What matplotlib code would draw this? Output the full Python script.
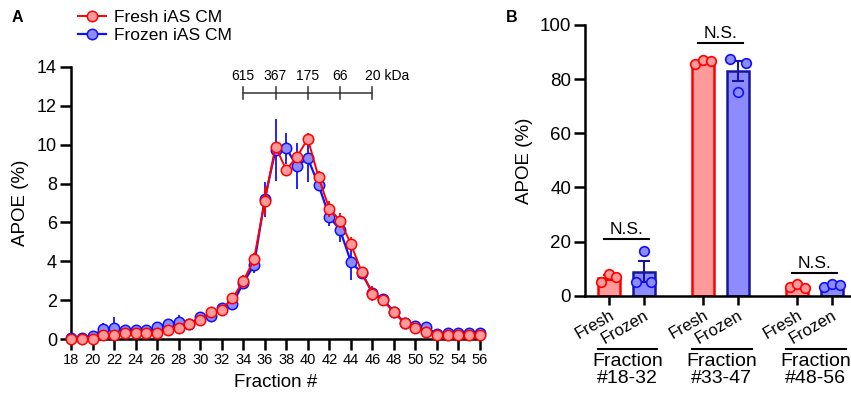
import numpy as np
import matplotlib
matplotlib.use('Agg')
import matplotlib.pyplot as plt
from matplotlib.transforms import blended_transform_factory

plt.rcParams['font.family'] = ['Liberation Sans', 'DejaVu Sans']

# ---------------- Panel A data ----------------
fractions = [18, 19, 20, 21, 22, 23, 24, 25, 26, 27, 28, 29, 30, 31, 32, 33, 34, 35, 36,
             37, 38, 39, 40, 41, 42, 43, 44, 45, 46, 47, 48, 49, 50, 51, 52, 53, 54, 55, 56]
fresh_mean = [0.0, 0.0, 0.0, 0.2, 0.2, 0.3, 0.3, 0.3, 0.3, 0.5, 0.6, 0.8, 1.0, 1.38, 1.53, 2.1, 2.98, 4.1, 7.1,
              9.9, 8.7, 9.38, 10.3, 8.32, 6.7, 6.1, 4.9, 3.47, 2.35, 2.0, 1.38, 0.83, 0.6, 0.39, 0.22, 0.22, 0.22, 0.22, 0.22]
fresh_sem = [0.03, 0.03, 0.03, 0.05, 0.05, 0.05, 0.05, 0.05, 0.05, 0.08, 0.1, 0.1, 0.1, 0.1, 0.1, 0.15, 0.3, 0.35, 0.7,
             0.3, 0.2, 0.3, 0.3, 0.3, 0.4, 0.4, 0.35, 0.2, 0.4, 0.25, 0.15, 0.1, 0.08, 0.05, 0.05, 0.05, 0.05, 0.05, 0.05]
frozen_mean = [0.05, 0.05, 0.18, 0.52, 0.6, 0.5, 0.5, 0.5, 0.62, 0.8, 0.9, 0.8, 1.12, 1.18, 1.6, 1.8, 2.9, 3.8, 7.2,
               9.72, 9.8, 8.9, 9.3, 7.93, 6.3, 5.61, 3.99, 3.4, 2.4, 2.05, 1.42, 0.85, 0.68, 0.65, 0.25, 0.3, 0.3, 0.3, 0.3]
frozen_sem = [0.05, 0.05, 0.1, 0.3, 0.55, 0.2, 0.15, 0.15, 0.15, 0.2, 0.35, 0.2, 0.1, 0.1, 0.15, 0.15, 0.2, 0.4, 0.9,
              1.6, 0.8, 1.2, 1.2, 0.3, 0.5, 0.6, 0.95, 0.3, 0.3, 0.2, 0.15, 0.1, 0.1, 0.1, 0.05, 0.05, 0.05, 0.05, 0.05]

kda_fractions = [34, 37, 40, 43, 46]
kda_labels = ['615', '367', '175', '66', '20 kDa']

# ---------------- Panel B data ----------------
group_labels = ['Fraction\n#18-32', 'Fraction\n#33-47', 'Fraction\n#48-56']
condition_labels = ['Fresh', 'Frozen']
fresh_pts = [[4.9, 7.9, 7.0], [85.5, 87.0, 86.7], [3.1, 4.3, 2.7]]
frozen_pts = [[5.0, 16.5, 5.0], [87.3, 75.4, 86.1], [3.1, 4.2, 3.9]]
ns_heights = [20.9, 93.2, 8.5]

RED = '#ff0000'
RED_FILL = '#ff9a9a'
BLUE = '#1010ff'
BLUE_FILL = '#8c8cff'
NAVY = '#16169a'

W, H = 851, 394
fig = plt.figure(figsize=(W / 100, H / 100), dpi=100)

# ======================= Panel A =======================
axA = fig.add_axes([71 / W, 1 - 339.3 / H, (480 - 71) / W, (339.3 - 66.7) / H])
axA.errorbar(fractions, frozen_mean, yerr=frozen_sem, fmt='none', ecolor=BLUE, elinewidth=1.3,
             capsize=0, zorder=2, clip_on=False)
lblue, = axA.plot(fractions, frozen_mean, '-o', color=BLUE, lw=1.6, ms=7.5, mfc=BLUE_FILL,
                  mec=BLUE, mew=1.1, zorder=3, clip_on=False, label='Frozen iAS CM')
axA.errorbar(fractions, fresh_mean, yerr=fresh_sem, fmt='none', ecolor=RED, elinewidth=1.3,
             capsize=0, zorder=4, clip_on=False)
lred, = axA.plot(fractions, fresh_mean, '-o', color=RED, lw=1.4, ms=7.5, mfc=RED_FILL,
                 mec=RED, mew=1.1, zorder=5, clip_on=False, label='Fresh iAS CM')

axA.set_xlim(18, 56)
axA.set_ylim(0, 14)
axA.set_xticks(range(18, 57, 2))
axA.set_yticks(range(0, 15, 2))
for s in ['top', 'right']:
    axA.spines[s].set_visible(False)
for s in ['left', 'bottom']:
    axA.spines[s].set_linewidth(1.8)
axA.tick_params(axis='both', width=1.8, length=8, direction='out')
axA.tick_params(axis='x', labelsize=10.5, pad=2)
axA.tick_params(axis='y', labelsize=13, pad=2)
axA.set_ylabel('APOE (%)', fontsize=13.5, labelpad=6)
axA.set_xlabel('Fraction #', fontsize=13.5, labelpad=5)

# kDa scale bar
yb = 12.65
axA.plot([kda_fractions[0], kda_fractions[-1]], [yb, yb], color='#333333', lw=1.1)
for f, lab in zip(kda_fractions, kda_labels):
    axA.plot([f, f], [yb - 0.3, yb + 0.3], color='#333333', lw=1.1)
    if 'kDa' in lab:
        axA.text(f - 0.7, yb + 0.5, lab, fontsize=10, ha='left', va='bottom')
    else:
        axA.text(f, yb + 0.5, lab, fontsize=10, ha='center', va='bottom')

axA.legend(handles=[lred, lblue], loc='upper left', bbox_to_anchor=(78 / W, 1 - 10 / H),
           bbox_transform=fig.transFigure, frameon=False, fontsize=12.5, handlelength=1.6,
           handletextpad=0.5, labelspacing=0.15, borderpad=0, borderaxespad=0)

fig.text(12 / W, 1 - 18 / H, 'A', fontsize=11.5, fontweight='bold', va='center', ha='left')
fig.text(506 / W, 1 - 18 / H, 'B', fontsize=11.5, fontweight='bold', va='center', ha='left')

# ======================= Panel B =======================
axB = fig.add_axes([585 / W, 1 - 295.7 / H, (W - 585) / W, (295.7 - 25) / H])
off = 0.186
bw = 0.234
jit = np.array([-0.08, 0.0, 0.08])
tick_pos, tick_lab = [], []
for i in range(3):
    for pts, dx, fc, ec, pec, cond in [(fresh_pts[i], -off, RED_FILL, RED, RED, 'Fresh'),
                                       (frozen_pts[i], off, BLUE_FILL, NAVY, BLUE, 'Frozen')]:
        p = np.array(pts)
        m = p.mean()
        sem = p.std(ddof=1) / np.sqrt(len(p))
        x = i + dx
        axB.bar(x, m, width=bw, color=fc, edgecolor=ec, linewidth=1.8, zorder=2)
        axB.errorbar(x, m, yerr=sem, fmt='none', ecolor=ec, elinewidth=1.5, capsize=4.5,
                     capthick=1.5, zorder=3)
        axB.scatter(x + jit, p, s=48, facecolor=fc, edgecolor=pec, linewidth=1.2, zorder=4,
                    clip_on=False)
        tick_pos.append(x)
        tick_lab.append(cond)
    h = ns_heights[i]
    axB.plot([i - 0.235, i + 0.235], [h, h], color='black', lw=1.5, zorder=5)
    axB.text(i, h + 0.8, 'N.S.', ha='center', va='bottom', fontsize=12.5)

axB.set_xlim(-0.441, 2.388)
axB.set_ylim(0, 100)
axB.set_yticks(range(0, 101, 20))
axB.set_xticks(tick_pos)
axB.set_xticklabels(tick_lab, rotation=30, ha='right', rotation_mode='anchor', fontsize=12)
for s in ['top', 'right']:
    axB.spines[s].set_visible(False)
for s in ['left', 'bottom']:
    axB.spines[s].set_linewidth(1.8)
axB.tick_params(axis='y', width=1.8, length=8, labelsize=13.5, pad=2)
axB.tick_params(axis='x', width=1.8, length=6.5, pad=2)
axB.set_ylabel('APOE (%)', fontsize=13.5, labelpad=5)

tr = blended_transform_factory(axB.transData, axB.transAxes)
for i, g in enumerate(group_labels):
    axB.plot([i - 0.3, i + 0.33], [-0.197, -0.197], color='black', lw=1.5, transform=tr,
             clip_on=False)
    axB.text(i + 0.01, -0.21, g, transform=tr, ha='center', va='top', fontsize=14,
             linespacing=1.0)

fig.savefig('out.png', dpi=100)
